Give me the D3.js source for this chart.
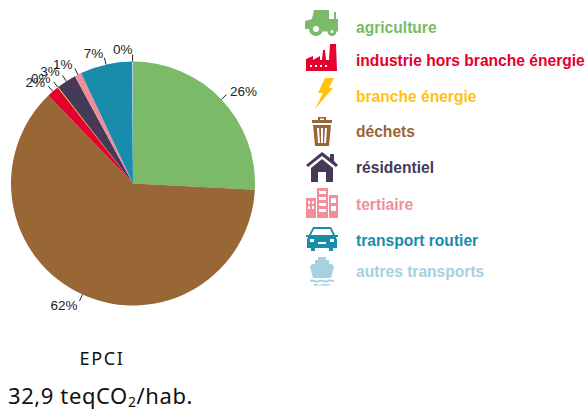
<!DOCTYPE html>
<html>
<head>
<meta charset="utf-8">
<script src="https://cdn.jsdelivr.net/npm/d3@7"></script>
<style>
  html, body { margin: 0; padding: 0; background: #fff; }
  svg { display: block; }
</style>
</head>
<body>
<svg id="chart" width="587" height="410"></svg>
<script>
// Data
const categories = ["agriculture", "déchets", "industrie hors branche énergie", "branche énergie", "résidentiel", "tertiaire", "transport routier", "autres transports"];
const values = [25.8, 62.0, 1.6, 0.1, 2.6, 0.9, 6.9, 0.1];
const pieLabels = ["26%", "62%", "2%", "0%", "3%", "1%", "7%", "0%"];
const colors = ["#7aba68", "#996636", "#e6002e", "#ffc20e", "#463a58", "#f28e98", "#1a8cab", "#a6d1e0"];

const legendOrder = ["agriculture", "industrie hors branche énergie", "branche énergie", "déchets", "résidentiel", "tertiaire", "transport routier", "autres transports"];

const svg = d3.select("#chart");
const radius = 122;
const color = d3.scaleOrdinal().domain(categories).range(colors);

// Pie
const pieData = d3.pie().sort(null).value(d => d)(values);
const arc = d3.arc().innerRadius(0).outerRadius(radius);
const tickIn = d3.arc().innerRadius(radius).outerRadius(radius);
const tickOut = d3.arc().innerRadius(radius + 7).outerRadius(radius + 7);
const labelArc = d3.arc().innerRadius(radius + 12).outerRadius(radius + 12);

const pie = svg.append("g").attr("transform", "translate(133,183.5)");

pie.selectAll(".slice")
    .data(pieData)
    .enter().append("path")
    .attr("class", "slice")
    .attr("d", arc)
    .attr("fill", (d, i) => color(categories[i]));

// Tick lines
pie.selectAll(".tick")
    .data(pieData)
    .enter().append("line")
    .attr("class", "tick")
    .attr("x1", d => tickIn.centroid(d)[0])
    .attr("y1", d => tickIn.centroid(d)[1])
    .attr("x2", d => tickOut.centroid(d)[0])
    .attr("y2", d => tickOut.centroid(d)[1])
    .attr("stroke", "#222")
    .attr("stroke-width", 1);

// Percent labels
pie.selectAll(".pct")
    .data(pieData)
    .enter().append("text")
    .attr("class", "pct")
    .attr("x", d => labelArc.centroid(d)[0])
    .attr("y", d => labelArc.centroid(d)[1])
    .attr("dy", "0.35em")
    .attr("text-anchor", d => (d.startAngle + d.endAngle) / 2 < Math.PI ? "start" : "end")
    .attr("font-family", "'Liberation Sans', Arial, sans-serif")
    .attr("font-size", 13.5)
    .attr("fill", "#222")
    .text((d, i) => pieLabels[i]);

// Legend
const legendPos = [27.5, 60.5, 96.5, 131.5, 167.5, 204.5, 240.5, 271.5];

svg.selectAll(".legend-text")
    .data(legendOrder)
    .enter().append("text")
    .attr("class", "legend-text")
    .attr("x", 356)
    .attr("y", (d, i) => legendPos[i])
    .attr("dy", "0.35em")
    .attr("font-family", "'Liberation Sans', Arial, sans-serif")
    .attr("font-weight", "bold")
    .attr("font-size", 15.6)
    .attr("fill", d => color(d))
    .text(d => d);

// Icons, one small pictogram per category (origin, then path)
const icons = {
    "agriculture": [305, 8, "M9 2H24V11H29V4H31V11H33V23.5H31.5A4.5 4.5 0 0 0 22.5 23.5H18V21A7 7 0 0 0 4 21H0V13L7 11Z M11 14A7 7 0 1 0 11 28A7 7 0 1 0 11 14Z M11 18A3 3 0 1 1 11 24A3 3 0 1 1 11 18Z M27 19A4.5 4.5 0 1 0 27 28A4.5 4.5 0 1 0 27 19Z M27 22A1.5 1.5 0 1 1 27 25A1.5 1.5 0 1 1 27 22Z"],
    "industrie hors branche énergie": [305, 43, "M1 28V16L8 13V17L15 13V17L17 17L18 7H20L21 17H24L25 1H31L32 28Z M5 22V24H7V22Z M10 22V24H12V22Z M15 22V24H17V22Z M20 22V24H22V22Z"],
    "branche énergie": [305, 78, "M20 0H29L24 10H28L10 31L18 15H13Z"],
    "déchets": [305, 117, "M13 0H21V3H27V6H7V3H13Z M15 1.5V3H19V1.5Z M8 8H26L24 29H10Z M12 11L13 26H15L14 11Z M16 11V26H18V11Z M20 11L19 26H21L22 11Z"],
    "résidentiel": [305, 152, "M17 0L25 6V2H29V9L33 13L31 15L17 4L3 15L1 13Z M17 7L28 16V30H21V20H13V30H6V16Z"],
    "tertiaire": [305, 188, "M1 10H11V30H1Z M12 0H23V30H12Z M24 7H33V30H24Z M14 3V6H21V3Z M14 9V12H21V9Z M14 15V18H21V15Z M14 21V24H21V21Z M3 13V16H5V13Z M7 13V16H9V13Z M3 18V21H5V18Z M7 18V21H9V18Z M26 10V15H31V10Z M26 18V23H31V18Z"],
    "transport routier": [305, 226, "M8 1H26L30 9H33V11H31L32 14V22H28V25H24V22H10V25H6V22H2V14L3 11H1V9H4Z M9 3L6 9H28L25 3Z M5 13V16H9V13Z M25 13V16H29V13Z M13 16V18H21V16Z"],
    "autres transports": [305, 256, "M13 1H21V4H24V8H27L29 11L26 22H8L5 11L7 8H10V4H13Z M5 24C8 22 11 26 14 24C17 22 20 26 23 24C25 23 27 24 29 24V26C27 26 25 25 23 26C20 28 17 24 14 26C11 28 8 24 5 26Z M9 28C12 27 14 30 17 28C20 27 22 29 25 28V29.5H9Z"]
};

svg.selectAll(".icon")
    .data(legendOrder)
    .enter().append("path")
    .attr("class", "icon")
    .attr("transform", d => "translate(" + icons[d][0] + "," + icons[d][1] + ")")
    .attr("d", d => icons[d][2])
    .attr("fill", d => color(d))
    .attr("fill-rule", "evenodd");

// Caption under the pie
svg.append("text")
    .attr("x", 102)
    .attr("y", 365)
    .attr("text-anchor", "middle")
    .attr("font-family", "'Noto Sans', sans-serif")
    .attr("font-size", 18)
    .attr("letter-spacing", 1.6)
    .attr("fill", "#111")
    .text("EPCI");

const total = svg.append("text")
    .attr("x", 8)
    .attr("y", 404)
    .attr("font-family", "'Noto Sans', sans-serif")
    .attr("font-size", 22)
    .attr("letter-spacing", 0.6)
    .attr("fill", "#111");
total.append("tspan").text("32,9 teqCO");
total.append("tspan").attr("dy", 3).attr("font-size", 14).text("2");
total.append("tspan").attr("dy", -3).text("/hab.");
</script>
</body>
</html>
